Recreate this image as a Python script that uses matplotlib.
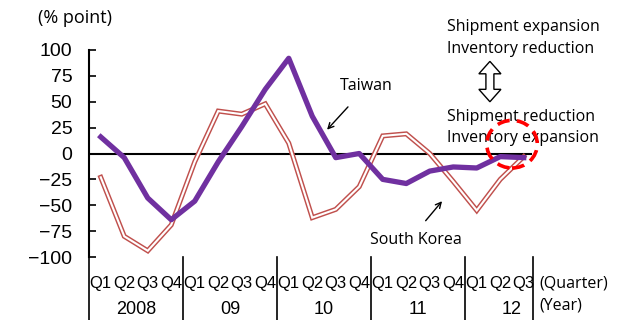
import matplotlib
matplotlib.use('Agg')
import matplotlib.pyplot as plt
from matplotlib.patches import Ellipse, Polygon
import matplotlib.transforms as mtransforms

# quarterly shipment-inventory gap, % point
quarters = ['Q1', 'Q2', 'Q3', 'Q4'] * 4 + ['Q1', 'Q2', 'Q3']
years = ['2008', '09', '10', '11', '12']
taiwan = [16, -4, -43, -64, -46, -8, 26, 62, 92, 36, -4, 0,
          -25, -29, -17, -13, -14, -3, -4]
korea = [-23, -80, -94, -69, -8, 41, 38, 48, 10, -62, -54, -32,
         17, 19, 0, -27, -55, -25, -3]
yticks = [100, 75, 50, 25, 0, -25, -50, -75, -100]

cat_font = 'Liberation Sans'
cat_size = 12
label_font = 'Open Sans'
lsize = 11.5

fig = plt.figure(figsize=(6.19, 3.2), dpi=100)
ax = fig.add_axes([89 / 619, 1 - 257 / 320, 446.5 / 619, 207 / 320])

x = list(range(len(quarters)))

# South Korea drawn as a hollow double line
ax.plot(x, korea, color='#C0504D', lw=3.6, solid_joinstyle='miter', clip_on=False, zorder=3)
ax.plot(x, korea, color='white', lw=1.5, solid_joinstyle='miter', clip_on=False, zorder=4)
ax.plot(x, taiwan, color='#7030A0', lw=3.8, clip_on=False, zorder=5)

ax.axhline(0, color='black', lw=1.5, xmin=0, xmax=0.99, zorder=2)

ax.set_xlim(-0.5, 18.5)
ax.set_ylim(-100, 100)
ax.set_yticks(yticks)
ax.set_yticklabels([str(v).replace('-', '\u2212') for v in yticks], family='Liberation Sans', fontsize=14)
ax.tick_params(axis='y', direction='in', length=5, width=1.2, pad=12)
ax.set_xticks([])
for side in ['top', 'right', 'bottom']:
    ax.spines[side].set_visible(False)
ax.spines['left'].set_linewidth(1.5)

# category axis below the plot
trans = mtransforms.blended_transform_factory(ax.transData, ax.transAxes)
for i, q in enumerate(quarters):
    ax.text(i, -0.13, q, transform=trans, ha='center', va='center',
            family=cat_font, fontsize=cat_size, clip_on=False)
for j, yr in enumerate(years):
    ax.text(j * 4 + 1.5, -0.255, yr, transform=trans, ha='center', va='center',
            family=cat_font, fontsize=13, clip_on=False)
for sep in [-0.5, 3.5, 7.5, 11.5, 15.5, 18.4]:
    ax.plot([sep, sep], [0, -0.35], transform=trans, color='black', lw=1.2, clip_on=False)
ax.text(18.65, -0.13, '(Quarter)', transform=trans, ha='left', va='center',
        family=label_font, fontsize=lsize, clip_on=False)
ax.text(18.65, -0.235, '(Year)', transform=trans, ha='left', va='center',
        family=label_font, fontsize=lsize, clip_on=False)

fig.text(38 / 619, 1 - 18 / 320, '(% point)', ha='left', va='center',
         family=label_font, fontsize=13)

# series labels with pointers
ax.text(11.3, 65, 'Taiwan', ha='center', va='center', family=label_font, fontsize=lsize)
ax.annotate('', xy=(9.55, 21), xytext=(10.6, 47),
            arrowprops=dict(arrowstyle='->', color='black', lw=1.0))
ax.text(13.4, -84, 'South Korea', ha='center', va='center', family=label_font, fontsize=lsize)
ax.annotate('', xy=(14.6, -44), xytext=(13.75, -67),
            arrowprops=dict(arrowstyle='->', color='black', lw=1.0))

# direction legend
for yy, txt in [(122, 'Shipment expansion'), (101, 'Inventory reduction'),
                (35, 'Shipment reduction'), (15, 'Inventory expansion')]:
    ax.text(14.75, yy, txt, ha='left', va='center', family=label_font,
            fontsize=lsize, clip_on=False)

# hollow double-headed arrow between the two captions
cx, hw, sw = 16.56, 0.47, 0.17
top, bot, hl = 89, 50, 12
arrow_pts = [(cx, top), (cx + hw, top - hl), (cx + sw, top - hl), (cx + sw, bot + hl),
             (cx + hw, bot + hl), (cx, bot), (cx - hw, bot + hl), (cx - sw, bot + hl),
             (cx - sw, top - hl), (cx - hw, top - hl)]
ax.add_patch(Polygon(arrow_pts, closed=True, fc='white', ec='black', lw=1.0, clip_on=False))

ax.add_patch(Ellipse((17.5, 9), 2.15, 46, fill=False, ec='red', lw=2.6,
                     ls=(0, (3.5, 2)), zorder=6, clip_on=False))

fig.savefig('out.png', dpi=100)
